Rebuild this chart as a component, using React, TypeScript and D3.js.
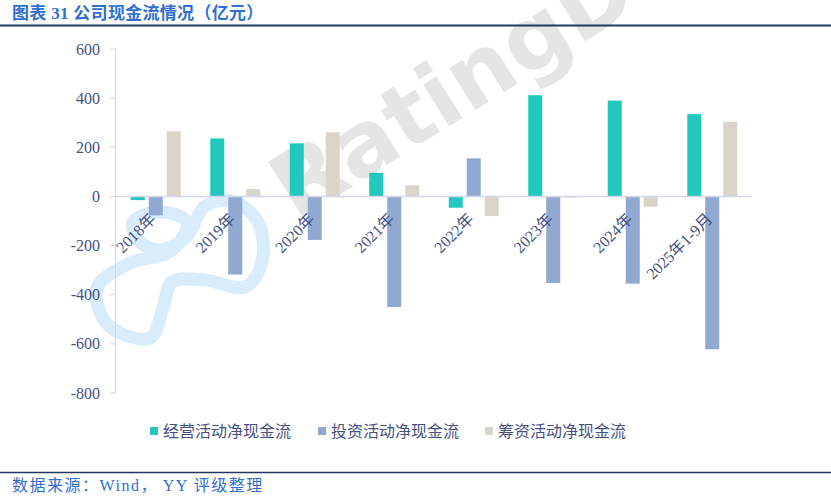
import React from "react";
import * as d3 from "d3";

const categories = ["2018年", "2019年", "2020年", "2021年", "2022年", "2023年", "2024年", "2025年1-9月"];
const seriesNames = ["经营活动净现金流", "投资活动净现金流", "筹资活动净现金流"];
const operating = [-15, 236, 216, 96, -46, 412, 390, 335];
const investing = [-77, -318, -177, -450, 155, -352, -355, -622];
const financing = [265, 30, 261, 45, -80, -3, -42, 304];
const seriesColors = ["#22C7BE", "#91A8D1", "#DBD4CA"];
const yTicks = [600, 400, 200, 0, -200, -400, -600, -800];

const W = 831;
const H = 500;
const textColor = "#45527f";
const serif = "'Liberation Serif', 'Times New Roman', 'Noto Sans CJK SC', serif";
const cjk = "'Noto Sans CJK SC', sans-serif";

export default function App() {
  const y = d3.scaleLinear().domain([-800, 600]).range([393, 49]);
  const x = d3.scaleBand<string>().domain(categories).range([116, 752]).paddingInner(0).paddingOuter(0);
  const inner = d3.scaleBand<string>().domain(seriesNames).range([-25, 25]).paddingInner(0.222).paddingOuter(0);
  const data = [operating, investing, financing];

  const loopPts: [number, number][] = [
    [133, 222], [160, 212], [187, 222], [172, 250], [128, 264], [97, 288], [108, 325], [150, 338],
    [163, 308], [172, 282], [205, 280], [245, 287], [262, 262], [258, 222], [232, 201], [205, 206],
    [187, 236], [160, 250], [138, 240],
  ];
  const loopPath = d3.line().curve(d3.curveCatmullRomClosed.alpha(0.5))(loopPts) || "";

  return (
    <svg width={W} height={H} style={{ position: "absolute", left: 0, top: 0, background: "#fff" }}>
      {/* watermark */}
      <path d={loopPath} fill="none" stroke="#d8ecfb" strokeWidth={13} strokeLinejoin="round" />
      <text
        x={0}
        y={0}
        transform="translate(296,222) rotate(-32)"
        fontFamily="'DejaVu Sans', Roboto, sans-serif"
        fontWeight="bold"
        fontSize={90}
        fill="#e5e5e5"
      >
        RatingDog
      </text>

      {/* title */}
      <text x={12} y={19} fontFamily={serif} fontWeight="bold" fontSize={17} letterSpacing={0.3} fill="#2F6FD0">
        图表 31 公司现金流情况（亿元）
      </text>
      <line x1={0} x2={W} y1={25.5} y2={25.5} stroke="#1F3864" strokeWidth={2} />

      {/* y axis */}
      <line x1={115.5} x2={115.5} y1={y(600)} y2={y(-800)} stroke="#d9d9d9" strokeWidth={1} />
      {yTicks.map((t) => (
        <g key={t}>
          <line x1={110} x2={115.5} y1={y(t)} y2={y(t)} stroke="#d9d9d9" strokeWidth={1} />
          <text
            x={100}
            y={y(t)}
            dy="0.35em"
            textAnchor="end"
            fontFamily={serif}
            fontSize={16}
            fill={textColor}
          >
            {t}
          </text>
        </g>
      ))}

      {/* bars */}
      {data.map((vals, si) =>
        vals.map((v, ci) => {
          const cx = (x(categories[ci]) || 0) + x.bandwidth() / 2;
          const bx = cx + (inner(seriesNames[si]) || 0);
          const y0 = y(Math.max(0, v));
          const h = Math.abs(y(v) - y(0));
          return (
            <rect
              key={`${si}-${ci}`}
              x={bx}
              y={y0}
              width={inner.bandwidth()}
              height={Math.max(h, 1)}
              fill={seriesColors[si]}
            />
          );
        })
      )}

      {/* zero line */}
      <line x1={115} x2={752} y1={y(0)} y2={y(0)} stroke="#d3d8e8" strokeWidth={1.5} />

      {/* x labels */}
      {categories.map((c) => {
        const cx = (x(c) || 0) + x.bandwidth() / 2;
        return (
          <text
            key={c}
            transform={`translate(${cx + 1},${220}) rotate(-45)`}
            textAnchor="end"
            fontFamily={serif}
            fontSize={16}
            fill={textColor}
          >
            {c}
          </text>
        );
      })}

      {/* legend */}
      {seriesNames.map((s, i) => {
        const lx = [150, 318, 485][i];
        return (
          <g key={s}>
            <rect x={lx} y={427} width={8} height={8} fill={seriesColors[i]} />
            <text x={lx + 13} y={437} fontFamily={cjk} fontSize={16} fill={textColor}>
              {s}
            </text>
          </g>
        );
      })}

      {/* footer */}
      <line x1={0} x2={W} y1={472.5} y2={472.5} stroke="#1F3864" strokeWidth={1.5} />
      <text x={12} y={491} fontFamily={serif} fontSize={16} letterSpacing={1.5} fill="#2F6FD0">
        数据来源：Wind， YY 评级整理
      </text>
    </svg>
  );
}
